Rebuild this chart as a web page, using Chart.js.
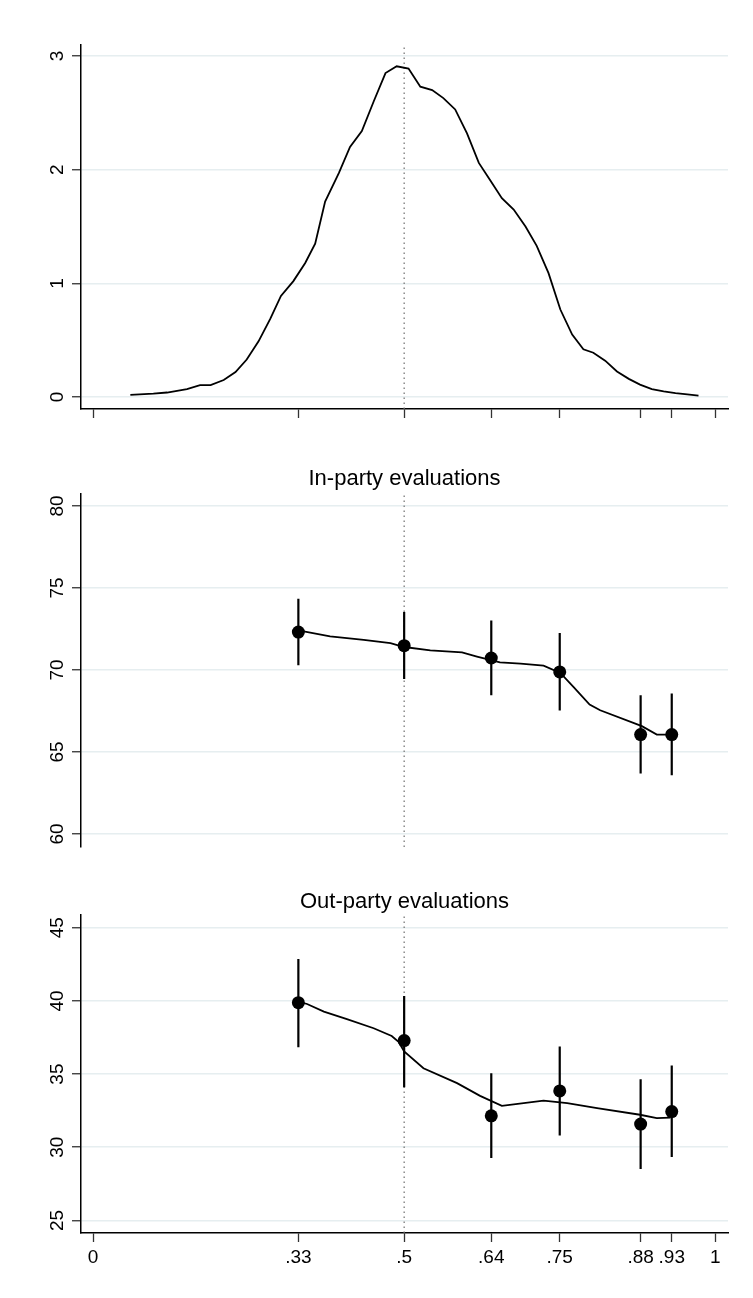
<!DOCTYPE html>
<html>
<head>
<meta charset="utf-8">
<script src="https://cdn.jsdelivr.net/npm/chart.js@4.4.1/dist/chart.umd.min.js"></script>
<style>
  body { margin: 0; background: #fff; }
  .panel { position: absolute; left: 0; width: 753px; }
</style>
</head>
<body>
<div class="panel" style="top:0;height:440px"><canvas id="densityChart"></canvas></div>
<div class="panel" style="top:440px;height:430px"><canvas id="inChart"></canvas></div>
<div class="panel" style="top:870px;height:428px"><canvas id="outChart"></canvas></div>
<script>
// x axis (shared by all three panels)
const xTicks = [0, 0.33, 0.5, 0.64, 0.75, 0.88, 0.93, 1];
const xTickLabels = ['0', '.33', '.5', '.64', '.75', '.88', '.93', '1'];
const cutoff = 0.5;

// top panel: kernel density
const densityX = [0.06, 0.097, 0.119, 0.151, 0.172, 0.189, 0.21, 0.229, 0.247, 0.266, 0.285, 0.302, 0.322, 0.341, 0.357, 0.373, 0.395, 0.413, 0.432, 0.451, 0.47, 0.488, 0.507, 0.526, 0.545, 0.563, 0.582, 0.601, 0.62, 0.638, 0.657, 0.676, 0.695, 0.713, 0.732, 0.751, 0.77, 0.788, 0.804, 0.823, 0.842, 0.861, 0.879, 0.898, 0.917, 0.936, 0.955, 0.973];
const densityY = [0.02, 0.03, 0.04, 0.07, 0.105, 0.105, 0.15, 0.22, 0.33, 0.49, 0.69, 0.89, 1.02, 1.18, 1.35, 1.72, 1.97, 2.20, 2.34, 2.60, 2.85, 2.91, 2.89, 2.73, 2.70, 2.63, 2.53, 2.32, 2.06, 1.91, 1.75, 1.65, 1.50, 1.33, 1.09, 0.77, 0.55, 0.42, 0.39, 0.32, 0.225, 0.16, 0.11, 0.07, 0.05, 0.035, 0.023, 0.012];
const densityTicks = [0, 1, 2, 3];

// group means with confidence intervals
const groupX = [0.33, 0.5, 0.64, 0.75, 0.88, 0.93];

const inMean = [72.31, 71.48, 70.73, 69.88, 66.06, 66.06];
const inLo = [70.28, 69.45, 68.45, 67.52, 63.69, 63.58];
const inHi = [74.34, 73.53, 73.02, 72.25, 68.45, 68.56];
const inLowessX = [0.33, 0.381, 0.435, 0.478, 0.5, 0.542, 0.593, 0.617, 0.654, 0.687, 0.724, 0.751, 0.772, 0.798, 0.815, 0.882, 0.906, 0.931];
const inLowessY = [72.41, 72.05, 71.84, 71.64, 71.40, 71.19, 71.07, 70.82, 70.46, 70.38, 70.26, 69.82, 68.97, 67.89, 67.54, 66.57, 66.06, 66.06];
const inTicks = [60, 65, 70, 75, 80];

const outMean = [39.88, 37.29, 32.15, 33.85, 31.58, 32.44];
const outLo = [36.84, 34.1, 29.26, 30.8, 28.51, 29.33];
const outHi = [42.86, 40.34, 35.06, 36.88, 34.65, 35.58];
const outLowessX = [0.33, 0.344, 0.371, 0.408, 0.451, 0.48, 0.491, 0.5, 0.531, 0.585, 0.622, 0.657, 0.724, 0.762, 0.81, 0.879, 0.906, 0.928];
const outLowessY = [39.95, 39.79, 39.27, 38.75, 38.13, 37.6, 37.2, 36.54, 35.40, 34.38, 33.51, 32.83, 33.19, 33.01, 32.67, 32.22, 31.99, 32.03];
const outTicks = [25, 30, 35, 40, 45];

Chart.defaults.font.family = "'Liberation Sans', Arial, sans-serif";
Chart.defaults.color = '#000';
Chart.defaults.animation = false;

const toPoints = (xs, ys) => xs.map((x, i) => ({ x: x, y: ys[i] }));

// vertical CI segments, separated by null gaps
function ciPoints(xs, lo, hi) {
  return xs.flatMap((x, i) => [{ x: x, y: lo[i] }, { x: x, y: hi[i] }, { x: x, y: null }]);
}

function cutoffLine(yMin, yMax) {
  return {
    data: [{ x: cutoff, y: yMin }, { x: cutoff, y: yMax }],
    borderColor: '#6e6e6e',
    borderWidth: 1.2,
    borderDash: [1.5, 3.5],
    pointRadius: 0
  };
}

function makeOptions(p) {
  return {
    responsive: true,
    maintainAspectRatio: false,
    layout: { padding: p.padding },
    plugins: {
      legend: { display: false },
      tooltip: { enabled: false },
      title: {
        display: !!p.title,
        text: p.title,
        fullSize: false,
        font: { size: 22, weight: 'normal' },
        color: '#000',
        padding: p.titlePadding
      }
    },
    scales: {
      x: {
        type: 'linear',
        display: p.showX,
        min: -0.0193,
        max: 1.0204,
        afterBuildTicks: (scale) => { scale.ticks = xTicks.map(v => ({ value: v })); },
        afterFit: (scale) => { scale.height = p.xHeight; },
        ticks: {
          display: p.xLabels,
          font: { size: 19 },
          padding: 4,
          maxRotation: 0,
          callback: (value, index) => xTickLabels[index]
        },
        grid: { drawOnChartArea: false, drawTicks: true, tickLength: 9, tickColor: '#333', tickWidth: 1.3 },
        border: { display: true, color: '#000', width: 1.5 }
      },
      y: {
        type: 'linear',
        min: p.yMin,
        max: p.yMax,
        afterBuildTicks: (scale) => { scale.ticks = p.yTicks.map(v => ({ value: v })); },
        afterFit: (scale) => { scale.width = 81; },
        ticks: {
          font: { size: 19 },
          minRotation: 90,
          maxRotation: 90,
          crossAlign: 'center',
          padding: p.yPad
        },
        grid: { color: '#e6eef0', lineWidth: 1.5, tickLength: 9, tickColor: '#333', tickWidth: 1.3 },
        border: { display: true, color: '#000', width: 1.5 }
      }
    }
  };
}

function groupDatasets(mean, lo, hi, lowX, lowY, yMin, yMax) {
  return [
    {
      data: toPoints(groupX, mean),
      showLine: false,
      pointRadius: 6.5,
      pointBackgroundColor: '#000',
      pointBorderWidth: 0
    },
    {
      data: toPoints(lowX, lowY),
      borderColor: '#000',
      borderWidth: 1.8,
      pointRadius: 0,
      tension: 0
    },
    {
      data: ciPoints(groupX, lo, hi),
      borderColor: '#000',
      borderWidth: 2.2,
      pointRadius: 0,
      spanGaps: false
    },
    cutoffLine(yMin, yMax)
  ];
}

// top: density
new Chart(document.getElementById('densityChart'), {
  type: 'line',
  data: {
    datasets: [
      {
        data: toPoints(densityX, densityY),
        borderColor: '#000',
        borderWidth: 1.8,
        pointRadius: 0,
        tension: 0
      },
      cutoffLine(-0.105, 3.097)
    ]
  },
  options: makeOptions({
    padding: { top: 45, right: 25, bottom: 0, left: 0 },
    showX: true, xLabels: false, xHeight: 31,
    yMin: -0.105, yMax: 3.097, yTicks: densityTicks, yPad: 9
  })
});

// middle: in-party
new Chart(document.getElementById('inChart'), {
  type: 'line',
  data: { datasets: groupDatasets(inMean, inLo, inHi, inLowessX, inLowessY, 59.2, 80.77) },
  options: makeOptions({
    padding: { top: 0, right: 25, bottom: 23, left: 0 },
    title: 'In-party evaluations', titlePadding: { top: 26, bottom: 1 },
    showX: false, xLabels: false, xHeight: 0,
    yMin: 59.2, yMax: 80.77, yTicks: inTicks, yPad: 4
  })
});

// bottom: out-party
new Chart(document.getElementById('outChart'), {
  type: 'line',
  data: { datasets: groupDatasets(outMean, outLo, outHi, outLowessX, outLowessY, 24.14, 45.87) },
  options: makeOptions({
    padding: { top: 0, right: 25, bottom: 0, left: 0 },
    title: 'Out-party evaluations', titlePadding: { top: 18.5, bottom: 0.1 },
    showX: true, xLabels: true, xHeight: 65,
    yMin: 24.14, yMax: 45.87, yTicks: outTicks, yPad: 4
  })
});
</script>
</body>
</html>
